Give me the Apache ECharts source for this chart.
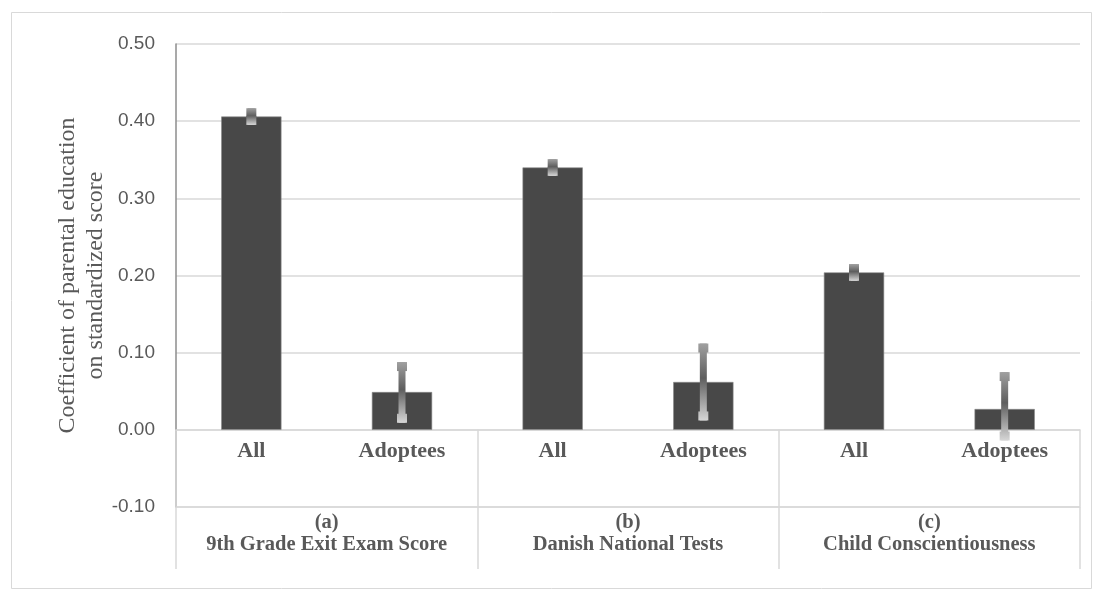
<!DOCTYPE html>
<html>
<head>
<meta charset="utf-8">
<script src="https://cdn.jsdelivr.net/npm/echarts@6/dist/echarts.min.js"></script>
<style>html,body{margin:0;padding:0;background:#fff}#c{width:1096px;height:592px}</style>
</head>
<body>
<div id="c"></div>
<script>
const categories = ['All', 'Adoptees', 'All', 'Adoptees', 'All', 'Adoptees'];
const groups = ['(a)\n9th Grade Exit Exam Score', '(b)\nDanish National Tests', '(c)\nChild Conscientiousness'];
const values = [0.406, 0.049, 0.340, 0.062, 0.204, 0.027];
const ciLow = [0.401, 0.015, 0.335, 0.018, 0.199, -0.008];
const ciHigh = [0.411, 0.082, 0.345, 0.106, 0.209, 0.069];

const errData = categories.map((c, i) => [i, ciLow[i], ciHigh[i]]);

const chart = echarts.init(document.getElementById('c'));
const txt = '#595959';
const grid = '#d9d9d9';
chart.setOption({
  animation: false,
  backgroundColor: '#fff',
  graphic: [{
    type: 'rect', shape: { x: 11.5, y: 12.5, width: 1080, height: 576 },
    style: { fill: 'none', stroke: grid, lineWidth: 1 }, silent: true, z: -10
  }],
  grid: { left: 176, right: 16, top: 44, bottom: 85 },
  xAxis: [{
    type: 'category', data: categories, position: 'bottom',
    axisLine: { onZero: true, lineStyle: { color: grid, width: 1.5 } },
    axisTick: { show: true, interval: function (idx) { return idx % 2 === 0; }, length: 77, lineStyle: { color: grid, width: 1.5 } },
    axisLabel: { interval: 0, hideOverlap: false, color: txt, fontFamily: 'Liberation Serif', fontWeight: 'bold', fontSize: 22, margin: -67 },
    splitLine: { show: false }
  }, {
    type: 'category', data: groups, position: 'bottom',
    axisLine: { onZero: false, lineStyle: { color: grid, width: 1.5 } },
    axisTick: { show: true, interval: 0, length: 62, lineStyle: { color: grid, width: 1.5 } },
    axisLabel: { interval: 0, hideOverlap: false, color: txt, fontFamily: 'Liberation Serif', fontWeight: 'bold', fontSize: 20.5, lineHeight: 22, margin: 5 },
    splitLine: { show: false }
  }],
  yAxis: {
    type: 'value', min: -0.1, max: 0.5, interval: 0.1,
    name: 'Coefficient of parental education\non standardized score',
    nameLocation: 'middle', nameGap: 66, nameRotate: 90, nameMoveOverlap: false,
    nameTextStyle: { color: txt, fontFamily: 'Liberation Serif', fontSize: 24, lineHeight: 28 },
    axisLine: { show: true, lineStyle: { color: '#8c8c8c', width: 1.5 } },
    axisTick: { show: false },
    axisLabel: { color: txt, fontFamily: 'Liberation Sans', fontSize: 19, margin: 21, formatter: v => v.toFixed(2) },
    splitLine: { show: true, lineStyle: { color: grid, width: 1.5 } }
  },
  series: [{
    type: 'bar', data: values, barWidth: '40%', xAxisIndex: 0,
    itemStyle: { color: '#484848', borderColor: '#8a8a8a', borderWidth: 0.6 }, z: 3
  }, {
    type: 'custom', xAxisIndex: 0, data: errData, z: 5,
    renderItem: function (params, api) {
      const i = api.value(0);
      const lo = api.coord([i, api.value(1)]);
      const hi = api.coord([i, api.value(2)]);
      const x = hi[0];
      const top = hi[1] - 4.5, bot = lo[1] + 4.5;
      const grad = new echarts.graphic.LinearGradient(0, top, 0, bot, [
        { offset: 0, color: '#a0a0a0' },
        { offset: 0.45, color: '#5e5e5e' },
        { offset: 1, color: '#d6d6d6' }
      ], true);
      return {
        type: 'group',
        children: [
          { type: 'rect', shape: { x: x - 3.5, y: top, width: 7, height: bot - top }, style: { fill: grad } },
          { type: 'rect', shape: { x: x - 5, y: top, width: 10, height: 9 }, style: { fill: grad } },
          { type: 'rect', shape: { x: x - 5, y: bot - 9, width: 10, height: 9 }, style: { fill: grad } }
        ]
      };
    }
  }]
});
</script>
</body>
</html>
